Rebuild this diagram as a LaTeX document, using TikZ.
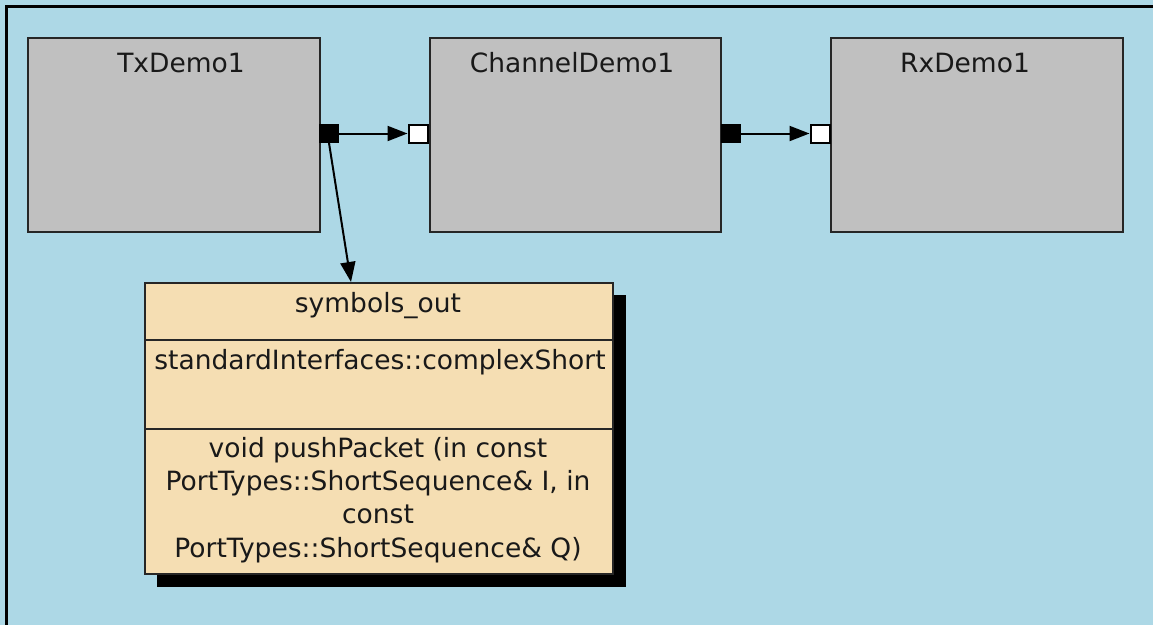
\documentclass[tikz,border=0pt]{standalone}
\usepackage{fontspec}
\setmainfont{DejaVu Sans}
\usetikzlibrary{arrows.meta}
\definecolor{bgblue}{RGB}{173,216,230}
\definecolor{boxgrey}{RGB}{192,192,192}
\definecolor{wheatc}{RGB}{245,222,179}
\tikzset{
  block/.style={draw=black!85, line width=2pt, fill=boxgrey, inner sep=0pt, anchor=north west},
  title/.style={anchor=base, inner sep=0pt, font=\fontsize{26.5}{33}\selectfont, text=black!90},
  outport/.style={draw=black, fill=black, line width=1pt, inner sep=0pt, minimum width=19pt, minimum height=18pt},
  inport/.style={draw=black, fill=white, line width=2pt, inner sep=0pt, minimum width=19pt, minimum height=18pt},
  conn/.style={line width=2pt, -{Triangle[length=20pt,width=15pt]}},
  txt/.style={anchor=base, inner sep=0pt, font=\fontsize{26.5}{33.3}\selectfont, align=center, text=black!90},
}
\begin{document}
\begin{tikzpicture}[x=1pt,y=-1pt]
\useasboundingbox (0,0) rectangle (1153,624);
\fill[bgblue] (-10,-10) rectangle (1170,640);
\draw[line width=3pt] (6.5,640) -- (6.5,6.5) -- (1170,6.5);
% blocks
\node[block, minimum width=292pt, minimum height=194pt] (tx) at (27,37) {};
\node[block, minimum width=291pt, minimum height=194pt] (ch) at (429,37) {};
\node[block, minimum width=292pt, minimum height=194pt] (rx) at (830,37) {};
\node[title] (txt1) at (181,72) {TxDemo1};
\node[title] (txt2) at (572,72) {ChannelDemo1};
\node[title] (txt3) at (965,72) {RxDemo1};
% ports
\node[outport] (txo) at (329,133.5) {};
\node[inport] (chi) at (418,133.5) {};
\node[outport] (cho) at (731,133.5) {};
\node[inport] (rxi) at (820,133.5) {};
% symbols box
\fill[black] (157,295) rectangle (626,587);
\node[draw=black!85, line width=2pt, fill=wheatc, inner sep=0pt, anchor=north west,
      minimum width=468pt, minimum height=291pt] (sym) at (144,282) {};
\draw[line width=1.8pt, black!85] (sym.west |- 0,340) -- (sym.east |- 0,340);
\draw[line width=1.8pt, black!85] (sym.west |- 0,429) -- (sym.east |- 0,429);
\node[txt] (symname) at (378,312) {symbols\_out};
\node[txt] (symtype) at (380,369) {standardInterfaces::complexShort};
\node[txt] (symop) at (378,557) {void pushPacket (in const\\PortTypes::ShortSequence\& I, in\\const\\PortTypes::ShortSequence\& Q)};
% connectors
\draw[conn] (txo.south) -- (sym.north -| 351,0);
\draw[conn] (txo.east) -- (chi.west);
\draw[conn] (cho.east) -- (rxi.west);
\end{tikzpicture}
\end{document}
